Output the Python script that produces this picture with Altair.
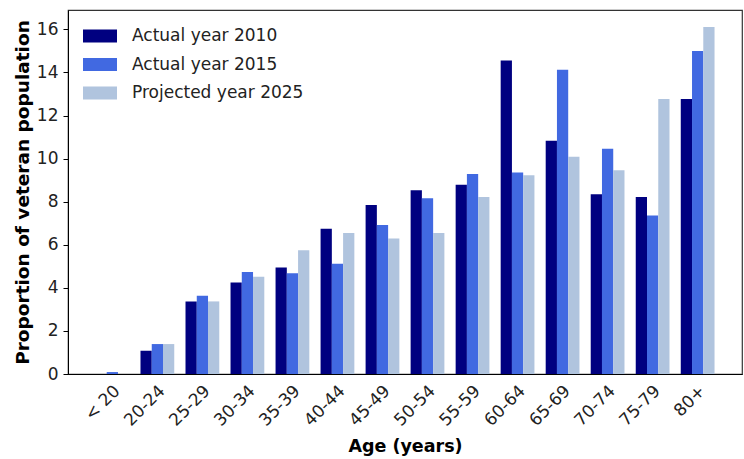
import altair as alt
import pandas as pd

# Age bands and the share of veterans (in percent) in each band
ages = ["< 20", "20-24", "25-29", "30-34", "35-39", "40-44", "45-49",
        "50-54", "55-59", "60-64", "65-69", "70-74", "75-79", "80+"]
actual_2010 = [0.0, 1.08, 3.37, 4.25, 4.95, 6.74, 7.85, 8.53, 8.79, 14.56, 10.83, 8.35, 8.22, 12.77]
actual_2015 = [0.09, 1.39, 3.63, 4.74, 4.68, 5.12, 6.92, 8.16, 9.29, 9.35, 14.13, 10.46, 7.36, 15.0]
projected_2025 = [0.0, 1.39, 3.37, 4.51, 5.75, 6.55, 6.29, 6.55, 8.22, 9.23, 10.09, 9.46, 12.77, 16.11]

series_names = ["Actual year 2010", "Actual year 2015", "Projected year 2025"]
series_colors = ["#000080", "#4169E1", "#B0C4DE"]

rows = []
for name, values in zip(series_names, [actual_2010, actual_2015, projected_2025]):
    for age, v in zip(ages, values):
        rows.append({"age": age, "series": name, "value": v})
df = pd.DataFrame(rows)

FONT = "DejaVu Sans"

chart = alt.Chart(df).mark_bar().encode(
    x=alt.X(
        "age:N",
        sort=ages,
        scale=alt.Scale(paddingInner=0.25, paddingOuter=0.61),
        axis=alt.Axis(
            title="Age (years)",
            labelAngle=-45,
            labelAlign="right",
            labelBaseline="middle",
            labelFontSize=17,
            labelPadding=14,
            labelOffset=5,
            ticks=False,
            titleFontSize=17.5,
            titleFontWeight="bold",
            titlePadding=9,
        ),
    ),
    xOffset=alt.XOffset("series:N", sort=series_names,
                        scale=alt.Scale(paddingInner=0, paddingOuter=0)),
    y=alt.Y(
        "value:Q",
        scale=alt.Scale(domain=[0, 16.9], nice=False),
        axis=alt.Axis(
            title="Proportion of veteran population",
            values=[0, 2, 4, 6, 8, 10, 12, 14, 16],
            grid=False,
            labelFontSize=17,
            labelPadding=5,
            tickSize=5,
            titleFontSize=18.5,
            titleFontWeight="bold",
            titlePadding=4,
        ),
    ),
    color=alt.Color(
        "series:N",
        sort=series_names,
        scale=alt.Scale(domain=series_names, range=series_colors),
        legend=alt.Legend(
            title=None,
            orient="none",
            legendX=15,
            legendY=16,
            symbolType="M-1,-0.38L1,-0.38L1,0.38L-1,0.38Z",
            symbolSize=1156,
            symbolStrokeWidth=0,
            symbolOpacity=1,
            labelFontSize=17,
            labelOffset=15,
            labelLimit=400,
            labelColor="#222222",
            clipHeight=20,
            rowPadding=8.5,
        ),
    ),
).properties(
    width=674,
    height=364,
    autosize=alt.AutoSizeParams(type="none"),
    padding={"left": 68, "top": 10, "right": 2, "bottom": 85},
).configure(
    font=FONT,
).configure_axis(
    domainColor="#000000",
    domainWidth=1,
    tickColor="#000000",
    labelColor="#222222",
    titleColor="#000000",
    labelFont=FONT,
    titleFont=FONT,
).configure_legend(
    labelFont=FONT,
).configure_view(
    stroke="#333333",
    strokeWidth=1.2,
)

chart.save("out.html", embed_options={"renderer": "svg", "actions": False})
